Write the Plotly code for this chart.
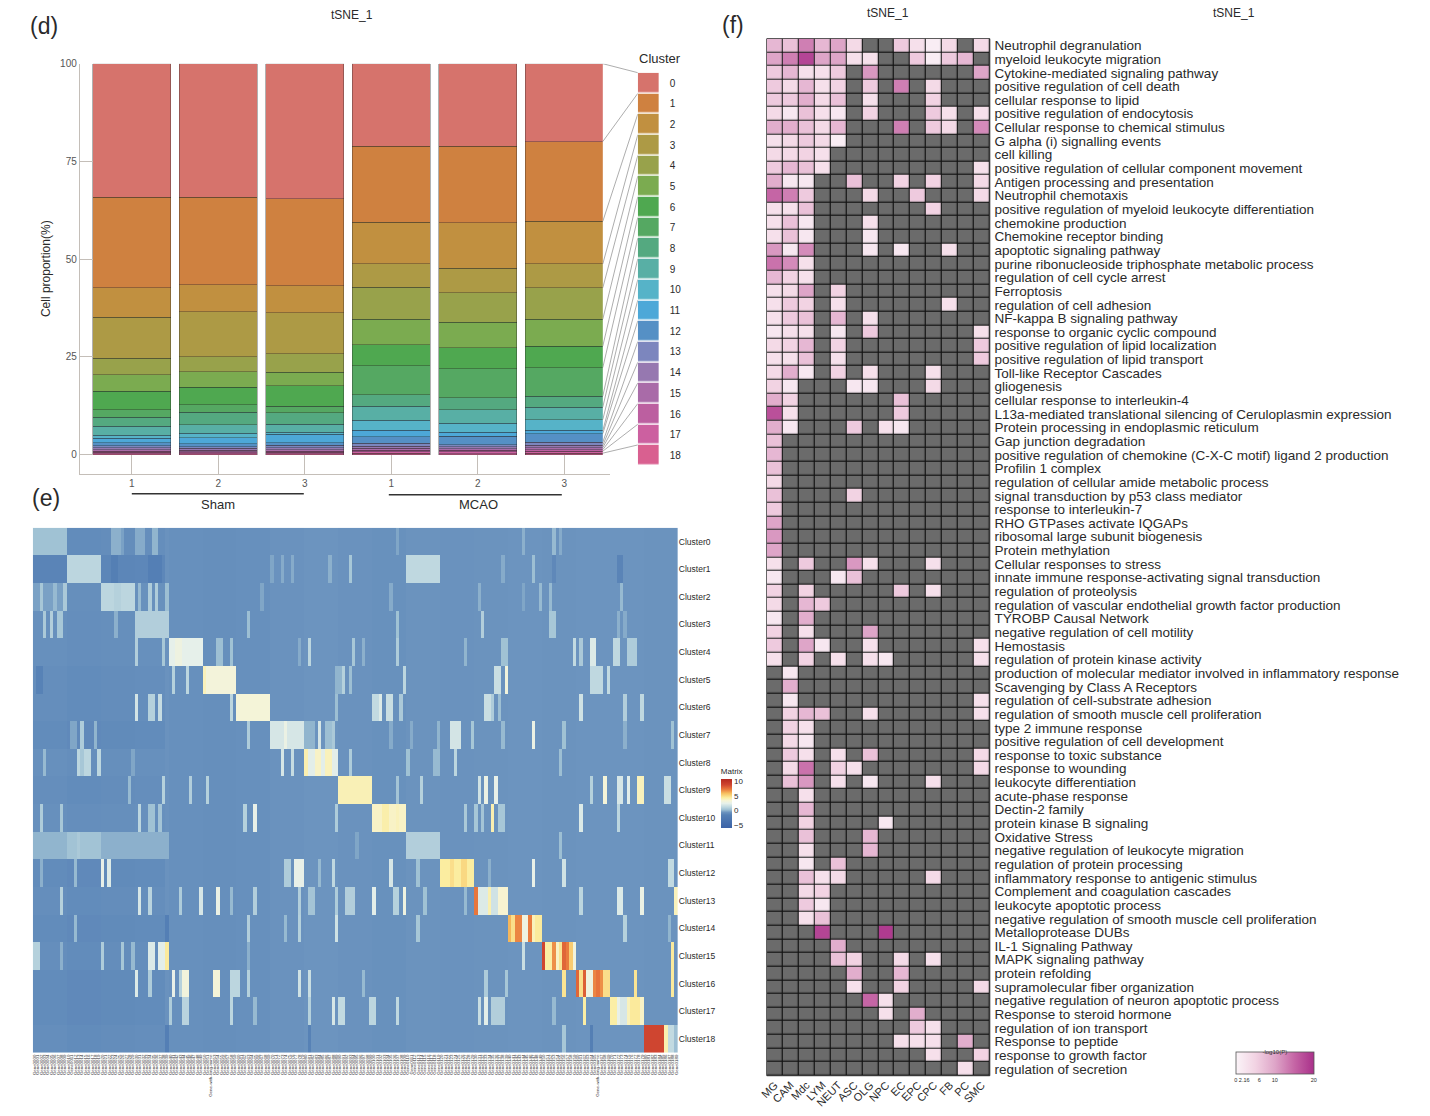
import numpy as np
import plotly.graph_objects as go

W, H = 1430, 1116
FONT = "Liberation Sans"

# ---- panel d: cell proportion per cluster, one list per sample (cluster 0 to 18)
sample_ticks = ["1", "2", "3", "1", "2", "3"]
cluster_names = [str(i) for i in range(19)]
sham_1 = [34.1, 23.2, 7.6, 10.4, 4.3, 4.2, 4.7, 1.9, 2.3, 2.3, 0.8, 1.2, 0.7, 0.5, 0.5, 0.4, 0.3, 0.3, 0.3]
sham_2 = [34.1, 22.4, 6.9, 11.5, 3.9, 3.9, 4.5, 1.9, 3.2, 2.2, 1.2, 1.5, 0.7, 0.5, 0.4, 0.4, 0.3, 0.3, 0.2]
sham_3 = [34.5, 22.3, 6.9, 10.5, 4.7, 3.4, 5.3, 1.7, 2.9, 2.1, 0.5, 2.1, 0.7, 0.6, 0.5, 0.4, 0.3, 0.3, 0.3]
mcao_1 = [21.1, 19.5, 10.5, 6.1, 8.1, 6.6, 5.4, 7.4, 2.9, 3.6, 2.6, 1.6, 1.7, 0.7, 0.5, 0.5, 0.4, 0.4, 0.4]
mcao_2 = [21.1, 19.6, 11.6, 6.3, 7.5, 6.5, 5.4, 7.4, 3.1, 3.4, 2.4, 1.0, 2.1, 0.6, 0.5, 0.4, 0.4, 0.4, 0.3]
mcao_3 = [19.9, 20.4, 10.9, 6.1, 8.0, 6.9, 5.5, 7.3, 2.8, 3.2, 2.8, 0.8, 2.2, 0.8, 0.6, 0.5, 0.4, 0.5, 0.4]
cluster_colors = ["#D6736C", "#CF8140", "#C19040", "#AD9A45", "#98A24B", "#7BAB50", "#4FA850",
                  "#55A862", "#54A980", "#58AFA5", "#56B3C8", "#4DA8D8", "#5590C5", "#7C86BE",
                  "#9678B0", "#A96BA8", "#BC5FA0", "#CC60A0", "#D96090"]

# ---- panel e: rows of the marker heatmap, as (first column, columns, value) runs
heat_labels = ["Cluster%d" % i for i in range(19)]
# the gene names under the heatmap cannot be read in the picture, these only stand in
long_genes = {52: "Gene-with-long-name", 166: "Gene-with-long-name"}
gene_labels = [long_genes.get(i, "Gene%04d" % i) for i in range(190)]
block_shade = [-0.1, -0.2, -0.15, -0.1, -0.2, -0.25, -0.2, -0.1, 0, -0.1,
               -0.15, -0.05, -0.1, -0.05, 0, -0.05, 0, 0, -0.05]
row_left = [-0.75, -1.05, -0.6, -0.65, -0.65, -0.75, -0.75, -0.85, -0.65, -0.75,
            -0.65, -0.2, -0.85, -0.75, -0.85, -0.75, -0.85, -0.85, -0.75]
row0 = [(0, 10, 0.4), (23, 3, 0.0), (26, 1, -0.3), (30, 3, -0.1), (35, 2, 0.1), (107, 1, -0.2),
        (144, 1, 0.0), (153, 1, 0.2), (155, 1, -0.1)]
row1 = [(0, 10, -1.3), (10, 10, 1.2), (23, 2, -1.7), (34, 4, -1.6), (70, 1, -0.2), (73, 1, -0.1), (76, 1, -0.1),
        (87, 1, 0.0), (93, 1, 0.6), (110, 10, 1.3), (138, 1, -0.1), (147, 1, 0.3), (153, 1, -1.1), (172, 2, -1.3)]
row2 = [(0, 10, -0.3), (2, 1, 0.6), (6, 1, 0.2), (9, 1, 0.7), (20, 10, 1.2), (24, 2, 1.0), (31, 1, 0.2),
        (34, 1, 0.8), (36, 1, 0.8), (39, 1, 0.3), (67, 1, -0.2), (105, 1, -0.1), (131, 1, 0.0), (144, 1, -0.2),
        (149, 1, 0.2), (152, 1, 0.2), (173, 1, 0.2)]
row3 = [(3, 1, 0.7), (5, 1, 0.9), (7, 2, 0.6), (24, 1, 0.0), (30, 10, 0.9), (63, 1, 0.3), (107, 1, 0.4),
        (132, 1, 0.9), (152, 2, 0.6), (172, 1, 0.0), (174, 1, -0.1)]
row4 = [(30, 1, 0.9), (38, 1, 0.6), (40, 10, 2.5), (42, 2, 3.0), (54, 2, 0.3), (58, 1, 0.4), (78, 1, -0.1),
        (81, 1, 1.2), (94, 1, 0.6), (97, 1, 0.0), (107, 1, 0.8), (127, 1, 0.1), (138, 2, 0.4), (159, 1, 1.4),
        (161, 1, 0.7), (164, 2, 2.2), (171, 2, 1.3), (175, 3, 0.8)]
row5 = [(1, 2, -1.4), (41, 1, 1.0), (45, 1, 1.2), (50, 10, 3.3), (50, 1, 4.0), (89, 2, 0.1), (91, 1, 1.0),
        (93, 1, 0.3), (109, 1, 1.2), (136, 2, 1.6), (139, 1, 3.2), (164, 4, 1.3), (169, 1, 1.4)]
row6 = [(30, 1, 1.9), (34, 2, 1.0), (37, 1, 1.5), (58, 1, 1.2), (60, 10, 3.4), (89, 1, 0.3), (100, 2, 1.4),
        (102, 1, 2.2), (104, 2, 1.6), (108, 1, 0.7), (133, 2, 1.6), (135, 1, 0.8), (137, 1, 0.3),
        (161, 1, 1.8), (174, 1, 0.9), (179, 1, 1.3)]
row7 = [(11, 2, -0.2), (14, 1, 0.8), (18, 1, 0.1), (63, 1, 0.8), (70, 10, 2.0), (74, 1, 2.8), (80, 3, 0.1),
        (84, 1, 2.0), (86, 2, 0.3), (88, 1, 0.7), (105, 1, -0.1), (111, 1, -0.1), (119, 1, 0.1), (123, 3, 1.9),
        (129, 1, 0.6), (138, 1, 0.2), (147, 1, 2.8), (156, 1, 0.4), (174, 1, 0.0), (188, 1, 0.4)]
row8 = [(3, 1, 0.2), (13, 4, 1.2), (14, 1, 0.6), (19, 1, 1.2), (29, 1, -0.2), (73, 1, 2.0), (76, 1, 1.5),
        (80, 10, 2.4), (80, 1, 4.2), (83, 2, 3.8), (86, 2, 4.0), (93, 1, 0.8), (110, 1, 0.4), (118, 2, 0.2),
        (124, 1, 1.2), (155, 1, 0.3)]
row9 = [(28, 1, 0.2), (38, 1, 1.0), (46, 1, 0.9), (51, 1, 1.0), (90, 10, 4.1), (107, 1, 0.5), (114, 1, 1.0),
        (131, 1, 1.8), (133, 1, 2.8), (136, 1, 2.6), (164, 1, 1.0), (168, 1, 3.4), (172, 2, 2.0), (175, 1, 2.4),
        (178, 2, 4.0), (186, 2, 1.6)]
row10 = [(2, 1, 0.8), (8, 1, 0.6), (31, 1, 1.2), (34, 2, 0.4), (37, 1, 0.5), (62, 1, 1.0), (65, 1, 2.6),
         (89, 1, 0.8), (100, 10, 3.8), (103, 2, 4.3), (107, 1, 4.0), (127, 1, 0.7), (130, 1, 0.6), (132, 1, 0.5),
         (135, 1, 4.2), (137, 2, 0.6), (161, 1, 2.2), (172, 1, 1.2)]
row11 = [(0, 10, 0.1), (10, 10, 0.45), (13, 1, 0.7), (20, 20, 0.0), (95, 1, -0.2), (110, 10, 0.9), (155, 1, 0.3)]
row12 = [(2, 1, 0.0), (12, 1, 0.2), (20, 1, 2.6), (22, 1, 2.2), (74, 2, 0.8), (77, 3, 2.6), (84, 1, 0.2),
         (88, 1, 1.3), (105, 1, 2.0), (113, 1, 0.4), (120, 10, 4.5), (123, 1, 5.0), (126, 2, 5.2), (134, 1, 0.0),
         (147, 1, 2.6), (156, 1, 1.8), (187, 2, 1.4)]
row13 = [(8, 1, 1.0), (31, 1, 2.0), (34, 1, 1.1), (43, 1, 0.8), (49, 1, 2.0), (54, 1, 2.8), (58, 1, 0.2),
         (65, 1, 0.9), (78, 1, 0.9), (81, 2, 0.5), (89, 1, 0.8), (92, 3, 0.9), (100, 1, 2.4), (106, 2, 1.0),
         (109, 1, 3.0), (115, 1, 0.4), (127, 1, 0.2), (130, 1, 7.5), (131, 3, 2.2), (134, 1, 4.2), (135, 2, 1.8),
         (137, 3, 3.6), (161, 1, 1.2), (172, 2, 2.2), (179, 1, 2.8), (189, 1, 4.0)]
row14 = [(12, 1, 0.2), (39, 1, -1.6), (63, 1, 0.9), (74, 1, 0.2), (78, 1, 1.0), (89, 1, 1.8), (113, 1, 0.6),
         (140, 1, 6.2), (141, 1, 5.0), (142, 2, 7.2), (144, 2, 3.0), (146, 1, 7.4), (147, 1, 4.0), (148, 2, 4.6),
         (174, 1, 1.0), (187, 1, 0.1)]
row15 = [(0, 2, 1.0), (8, 1, 0.0), (20, 1, 0.8), (26, 1, 0.6), (29, 1, 0.2), (34, 2, 2.2), (37, 2, 2.4),
         (39, 1, 4.6), (63, 1, 0.0), (144, 1, 1.6), (150, 1, 9.0), (151, 2, 4.4), (153, 1, 7.0), (154, 1, 3.8),
         (155, 1, 4.8), (156, 1, 8.0), (157, 1, 7.4), (158, 1, 5.6), (159, 1, 3.2), (188, 1, 4.6)]
row16 = [(30, 1, 2.2), (34, 1, 0.8), (41, 1, 2.6), (44, 2, 3.2), (43, 1, 1.0), (53, 2, 3.4), (58, 3, 1.2),
         (63, 1, 1.0), (78, 1, 1.8), (81, 1, 1.6), (97, 1, 0.2), (133, 1, 0.8), (139, 1, 0.6), (156, 1, 4.8),
         (160, 1, 8.0), (161, 1, 5.0), (162, 1, 8.2), (163, 2, 3.0), (165, 1, 7.2), (166, 1, 7.6), (167, 1, 7.0),
         (168, 2, 5.0), (177, 1, 4.8), (188, 1, 4.6)]
row17 = [(40, 1, 0.8), (44, 2, 1.1), (58, 1, 1.2), (65, 1, 0.2), (81, 1, 1.0), (88, 1, 2.0), (90, 2, 1.4),
         (99, 2, 1.2), (107, 1, 1.3), (131, 1, 1.6), (133, 1, 2.4), (135, 4, 0.9), (153, 1, 0.2), (162, 1, 4.4),
         (170, 2, 4.4), (172, 1, 2.6), (173, 2, 2.0), (175, 1, 4.0), (176, 3, 4.6), (179, 1, 3.8)]
row18 = [(39, 1, -1.6), (81, 1, -1.4), (156, 1, 0.6), (164, 1, -1.7), (180, 6, 9.0), (186, 1, 4.2), (187, 2, 1.4),
         (189, 1, 0.3)]
heat_rows = [row0, row1, row2, row3, row4, row5, row6, row7, row8, row9, row10, row11, row12, row13, row14,
             row15, row16, row17, row18]
heat_base = -0.55
heat_colors = [(-6, "#3B62A6"), (-1.5, "#5580B5"), (-0.55, "#6C94BF"), (0.3, "#9DBFD3"), (1.2, "#BCD6DF"),
               (2.5, "#E6F0EA"), (3.5, "#F6F4D6"), (4.5, "#FBEDA0"), (6, "#F7C060"), (7.5, "#E8763C"),
               (9, "#CF4530"), (11, "#B5281F")]

# ---- panel f: -log10(P) per term and cell type, 0 means not enriched
cell_types = ["MG", "CAM", "Mdc", "LYM", "NEUT", "ASC", "OLG", "NPC", "EC", "EPC", "CPC", "FB", "PC", "SMC"]
terms = ["Neutrophil degranulation", "myeloid leukocyte migration", "Cytokine-mediated signaling pathway",
         "positive regulation of cell death", "cellular response to lipid", "positive regulation of endocytosis",
         "Cellular response to chemical stimulus", "G alpha (i) signalling events", "cell killing",
         "positive regulation of cellular component movement", "Antigen processing and presentation",
         "Neutrophil chemotaxis", "positive regulation of myeloid leukocyte differentiation", "chemokine production",
         "Chemokine receptor binding", "apoptotic signaling pathway",
         "purine ribonucleoside triphosphate metabolic process", "regulation of cell cycle arrest", "Ferroptosis",
         "regulation of cell adhesion", "NF-kappa B signaling pathway", "response to organic cyclic compound",
         "positive regulation of lipid localization", "positive regulation of lipid transport",
         "Toll-like Receptor Cascades", "gliogenesis", "cellular response to interleukin-4",
         "L13a-mediated translational silencing of Ceruloplasmin expression",
         "Protein processing in endoplasmic reticulum", "Gap junction degradation",
         "positive regulation of chemokine (C-X-C motif) ligand 2 production", "Profilin 1 complex",
         "regulation of cellular amide metabolic process", "signal transduction by p53 class mediator",
         "response to interleukin-7", "RHO GTPases activate IQGAPs", "ribosomal large subunit biogenesis",
         "Protein methylation", "Cellular responses to stress", "innate immune response-activating signal transduction",
         "regulation of proteolysis", "regulation of vascular endothelial growth factor production",
         "TYROBP Causal Network", "negative regulation of cell motility", "Hemostasis",
         "regulation of protein kinase activity",
         "production of molecular mediator involved in inflammatory response", "Scavenging by Class A Receptors",
         "regulation of cell-substrate adhesion", "regulation of smooth muscle cell proliferation",
         "type 2 immune response", "positive regulation of cell development", "response to toxic substance",
         "response to wounding", "leukocyte differentiation", "acute-phase response", "Dectin-2 family",
         "protein kinase B signaling", "Oxidative Stress", "negative regulation of leukocyte migration",
         "regulation of protein processing", "inflammatory response to antigenic stimulus",
         "Complement and coagulation cascades", "leukocyte apoptotic process",
         "negative regulation of smooth muscle cell proliferation", "Metalloprotease DUBs", "IL-1 Signaling Pathway",
         "MAPK signaling pathway", "protein refolding", "supramolecular fiber organization",
         "negative regulation of neuron apoptotic process", "Response to steroid hormone", "regulation of ion transport",
         "Response to peptide", "response to growth factor", "regulation of secretion"]
enrichment = [
    [8, 7, 13, 8, 10, 4, 0, 0, 6, 3, 1, 4, 0, 4],
    [10, 13, 18, 10, 10, 3, 3, 0, 0, 6, 1, 6, 8, 0],
    [6, 8, 3, 3, 6, 0, 11, 0, 0, 0, 0, 0, 0, 10],
    [6, 4, 8, 3, 5, 0, 6, 0, 13, 0, 4, 0, 0, 0],
    [6, 6, 9, 4, 7, 0, 3, 0, 0, 0, 5, 0, 0, 0],
    [4, 2, 7, 3, 2, 0, 5, 0, 0, 0, 6, 3, 0, 3],
    [9, 9, 7, 4, 8, 0, 0, 0, 13, 0, 6, 4, 0, 12],
    [3, 4, 6, 4, 1, 0, 0, 0, 0, 0, 0, 0, 0, 0],
    [4, 4, 5, 3, 0, 0, 0, 0, 0, 0, 0, 0, 0, 0],
    [6, 8, 7, 3, 0, 0, 0, 0, 0, 0, 0, 0, 0, 3],
    [9, 2, 2, 0, 0, 7, 0, 0, 5, 0, 5, 0, 0, 4],
    [15, 13, 6, 0, 0, 0, 4, 0, 0, 6, 0, 0, 0, 4],
    [3, 3, 7, 0, 0, 0, 0, 0, 0, 0, 5, 0, 0, 0],
    [3, 7, 2, 0, 0, 0, 3, 0, 0, 0, 0, 0, 0, 0],
    [3, 7, 2, 0, 0, 0, 2, 0, 0, 0, 0, 0, 0, 0],
    [11, 2, 12, 0, 0, 0, 2, 0, 2, 0, 0, 3, 0, 0],
    [14, 12, 3, 0, 0, 0, 0, 0, 0, 0, 0, 0, 0, 0],
    [8, 5, 3, 0, 0, 0, 0, 0, 0, 0, 0, 0, 0, 0],
    [3, 4, 10, 0, 5, 0, 0, 0, 0, 0, 0, 0, 0, 0],
    [3, 6, 5, 0, 3, 0, 0, 0, 0, 0, 0, 3, 0, 0],
    [3, 6, 7, 0, 8, 0, 3, 0, 0, 0, 0, 0, 0, 0],
    [2, 3, 3, 0, 2, 0, 6, 0, 0, 0, 0, 0, 0, 3],
    [4, 5, 8, 0, 5, 0, 0, 0, 0, 0, 0, 0, 0, 6],
    [3, 3, 7, 0, 3, 0, 0, 0, 0, 0, 0, 0, 0, 6],
    [4, 9, 2, 0, 5, 0, 3, 0, 0, 0, 3, 0, 0, 0],
    [5, 2, 0, 0, 0, 2, 2, 0, 0, 0, 4, 0, 0, 0],
    [9, 5, 0, 0, 0, 0, 0, 0, 7, 0, 0, 0, 0, 0],
    [17, 3, 0, 0, 0, 0, 0, 0, 6, 0, 0, 0, 0, 0],
    [9, 2, 0, 0, 0, 6, 0, 3, 2, 0, 0, 0, 0, 0],
    [7, 0, 0, 0, 0, 0, 0, 0, 0, 0, 0, 0, 0, 0],
    [8, 0, 0, 0, 0, 0, 0, 0, 0, 0, 0, 0, 0, 0],
    [7, 0, 0, 0, 0, 0, 0, 0, 0, 0, 0, 0, 0, 0],
    [4, 0, 0, 0, 0, 0, 0, 0, 0, 0, 0, 0, 0, 0],
    [7, 0, 0, 0, 0, 5, 0, 0, 0, 0, 0, 0, 0, 0],
    [6, 0, 0, 0, 0, 0, 0, 0, 0, 0, 0, 0, 0, 0],
    [10, 0, 0, 0, 0, 0, 0, 0, 0, 0, 0, 0, 0, 0],
    [11, 0, 0, 0, 0, 0, 0, 0, 0, 0, 0, 0, 0, 0],
    [10, 0, 0, 0, 0, 0, 0, 0, 0, 0, 0, 0, 0, 0],
    [3, 0, 6, 0, 0, 11, 3, 0, 0, 0, 3, 0, 0, 0],
    [2, 0, 0, 0, 2, 7, 0, 0, 0, 0, 0, 0, 0, 0],
    [5, 0, 5, 0, 0, 0, 0, 0, 6, 0, 3, 0, 0, 0],
    [4, 0, 8, 6, 0, 0, 0, 0, 0, 0, 0, 0, 0, 0],
    [2, 0, 9, 0, 0, 0, 0, 0, 0, 0, 0, 0, 0, 0],
    [5, 0, 3, 0, 0, 0, 10, 0, 0, 0, 0, 0, 0, 0],
    [6, 0, 10, 2, 0, 0, 3, 0, 0, 0, 0, 0, 0, 3],
    [3, 0, 5, 0, 3, 0, 3, 2, 0, 0, 0, 0, 0, 3],
    [0, 2, 0, 0, 0, 0, 0, 0, 0, 0, 0, 0, 0, 0],
    [0, 9, 0, 0, 0, 0, 0, 0, 0, 0, 0, 0, 0, 0],
    [0, 2, 0, 0, 0, 0, 0, 0, 0, 0, 0, 0, 0, 3],
    [0, 5, 8, 7, 0, 0, 3, 0, 0, 0, 0, 0, 0, 3],
    [0, 5, 3, 0, 0, 0, 0, 0, 0, 0, 0, 0, 0, 0],
    [0, 4, 2, 0, 0, 0, 0, 0, 0, 0, 0, 0, 0, 0],
    [0, 6, 3, 0, 3, 0, 7, 0, 0, 0, 0, 0, 0, 4],
    [0, 4, 14, 0, 5, 3, 0, 0, 0, 0, 0, 0, 0, 4],
    [0, 7, 11, 0, 3, 0, 2, 0, 0, 0, 3, 0, 0, 0],
    [0, 0, 3, 0, 0, 0, 0, 0, 0, 0, 0, 0, 0, 0],
    [0, 0, 8, 0, 0, 0, 0, 0, 0, 0, 0, 0, 0, 0],
    [0, 0, 5, 0, 0, 0, 0, 2, 0, 0, 0, 0, 0, 0],
    [0, 0, 7, 0, 0, 0, 8, 0, 0, 0, 0, 0, 0, 0],
    [0, 0, 3, 0, 0, 0, 8, 0, 0, 0, 0, 0, 0, 0],
    [0, 0, 2, 0, 7, 0, 0, 0, 0, 0, 0, 0, 0, 0],
    [0, 0, 7, 3, 4, 0, 0, 0, 0, 0, 4, 0, 0, 0],
    [0, 0, 4, 5, 0, 0, 0, 0, 0, 0, 0, 0, 0, 0],
    [0, 0, 6, 2, 0, 0, 0, 0, 0, 0, 0, 0, 0, 0],
    [0, 0, 3, 7, 0, 0, 0, 0, 0, 0, 0, 0, 0, 0],
    [0, 0, 0, 18, 0, 0, 0, 19, 0, 0, 0, 0, 0, 0],
    [0, 0, 0, 0, 9, 0, 0, 0, 0, 0, 0, 0, 0, 0],
    [0, 0, 0, 0, 7, 5, 0, 0, 4, 0, 3, 0, 0, 0],
    [0, 0, 0, 0, 0, 9, 0, 0, 8, 0, 0, 0, 0, 0],
    [0, 0, 0, 0, 0, 3, 0, 0, 5, 0, 0, 0, 0, 4],
    [0, 0, 0, 0, 0, 0, 15, 3, 0, 0, 0, 0, 0, 0],
    [0, 0, 0, 0, 0, 0, 0, 3, 0, 9, 0, 0, 0, 0],
    [0, 0, 0, 0, 0, 0, 0, 0, 0, 6, 3, 0, 0, 0],
    [0, 0, 0, 0, 0, 0, 0, 0, 3, 3, 3, 0, 9, 0],
    [0, 0, 0, 0, 0, 0, 0, 0, 0, 0, 3, 0, 0, 5],
    [0, 0, 0, 0, 0, 0, 0, 0, 0, 0, 0, 0, 3, 0],
]
enrich_ticks = [0, 2.16, 6, 10, 20]
enrich_scale = [[0, "#FBF4F8"], [0.25, "#F2D3E3"], [0.5, "#DEA5C8"], [0.75, "#C565A5"], [1, "#A9308A"]]


# page pixel to paper fraction, corrected for the shift seen in the rendered page
def px(x):
    return (x - 8.2) / 0.9937 / W


def py(y):
    return 1 - (y - 5.3) / 0.9937 / H


def dom_x(a, b):
    return [px(a), px(b)]


def dom_y(top, bottom):
    return [py(bottom), py(top)]


fig = go.Figure()

# ---- panel d
samples = [sham_1, sham_2, sham_3, mcao_1, mcao_2, mcao_3]
positions = list(range(6))
for c in range(18, -1, -1):
    fig.add_trace(go.Bar(x=positions, y=[s[c] for s in samples], name=cluster_names[c], width=0.9,
                         marker=dict(color=cluster_colors[c], line=dict(color="rgba(40,40,40,0.45)", width=0.8)),
                         showlegend=False, xaxis="x", yaxis="y"))

# lines from the last bar to the legend keys
y_unit = 3.91
legend_top = 72
legend_step = 20.68
last_tops = np.cumsum(mcao_3[::-1])[::-1]
for c in range(19):
    key_value = (454 - (legend_top + legend_step * c)) / y_unit
    fig.add_trace(go.Scatter(x=[0, 1], y=[last_tops[c], key_value], mode="lines",
                             line=dict(color="#8A8A8A", width=0.7), showlegend=False, hoverinfo="skip",
                             xaxis="x2", yaxis="y"))

# legend keys
key_scale = [[i / 18, cluster_colors[i]] for i in range(19)]
fig.add_trace(go.Heatmap(z=[[i] for i in range(19)], x=["key"], y=cluster_names, colorscale=key_scale,
                         zmin=0, zmax=18, showscale=False, ygap=1.5, xaxis="x3", yaxis="y3"))

# ---- panel e
matrix = np.full((19, 190), heat_base)
for r, runs in enumerate(heat_rows):
    matrix[r, :39] = row_left[r]
    for b, shade in enumerate(block_shade):
        matrix[r, b * 10:(b + 1) * 10] += shade
    for first, n, val in runs:
        matrix[r, first:first + n] = val
heat_scale = [[(v + 6) / 17, col] for v, col in heat_colors]
fig.add_trace(go.Heatmap(z=matrix, x=list(range(190)), y=heat_labels, colorscale=heat_scale, zmin=-6, zmax=11,
                         xaxis="x4", yaxis="y4",
                         colorbar=dict(title=dict(text="Matrix", side="top", font=dict(size=8, family=FONT)),
                                       x=px(721), xanchor="left", xpad=0, y=py(764), yanchor="top", ypad=0,
                                       lenmode="pixels", len=63, thickness=11, outlinewidth=0,
                                       tickvals=[-5, 0, 5, 10], ticks="", tickfont=dict(size=8, family=FONT))))

# ---- panel f
enrich = np.array(enrichment, dtype=float)
enrich[enrich == 0] = np.nan
fig.add_trace(go.Heatmap(z=np.zeros(enrich.shape), x=cell_types, y=terms, colorscale=[[0, "#6B6B6B"], [1, "#6B6B6B"]],
                         showscale=False, xgap=1.2, ygap=1.2, xaxis="x5", yaxis="y5", hoverinfo="skip"))
fig.add_trace(go.Heatmap(z=enrich, x=cell_types, y=terms, colorscale=enrich_scale, zmin=0, zmax=20, xgap=1.2, ygap=1.2,
                         xaxis="x5", yaxis="y5",
                         colorbar=dict(orientation="h", title=dict(text="-log10(P)", side="top", font=dict(size=6, family=FONT)),
                                       x=px(1236), xanchor="left", xpad=0, y=py(1045), yanchor="top", ypad=0,
                                       lenmode="pixels", len=78, thickness=22, outlinecolor="#555555", outlinewidth=0.8,
                                       tickvals=enrich_ticks, ticktext=[str(t) for t in enrich_ticks], ticks="",
                                       tickangle=0, tickfont=dict(size=5.5, family=FONT))))

hidden = dict(visible=False)
label_color = "#2A2A2A"
axis_color = "#C4BEB8"
fig.update_layout(
    width=W, height=H, margin=dict(l=0, r=0, t=0, b=0), barmode="stack", paper_bgcolor="white",
    plot_bgcolor="white", font=dict(family=FONT, color=label_color),
    xaxis=dict(domain=dom_x(80, 610), range=[-0.6, 5.526], tickvals=positions, ticktext=sample_ticks,
               ticks="inside", ticklen=19, tickcolor=axis_color, showgrid=False, zeroline=False,
               showline=True, linecolor=axis_color, tickfont=dict(size=10, color="#555555"), anchor="y"),
    yaxis=dict(domain=dom_y(63, 473), range=[-4.86, 100], tickvals=[0, 25, 50, 75, 100],
               ticks="inside", ticklen=13, tickcolor=axis_color, showgrid=False, zeroline=False,
               showline=True, linecolor=axis_color, tickfont=dict(size=10, color="#555555"), anchor="x",
               title=dict(text="Cell proportion(%)", font=dict(size=12, color=label_color), standoff=6)),
    xaxis2=dict(domain=dom_x(603, 638), range=[0, 1], anchor="y", **hidden),
    xaxis3=dict(domain=dom_x(638, 659), anchor="y3", **hidden),
    yaxis3=dict(domain=dom_y(72, 465), anchor="x3", side="right", autorange="reversed", ticks="outside", ticklen=8,
                tickcolor="rgba(0,0,0,0)", showline=False, showgrid=False, zeroline=False,
                tickfont=dict(size=10, color=label_color), tickmode="array", tickvals=cluster_names, ticktext=cluster_names),
    xaxis4=dict(domain=dom_x(33, 678), anchor="y4", range=[-0.5, 189.5], tickmode="array", tickvals=list(range(190)),
                ticktext=gene_labels, tickangle=-90, ticks="", tickfont=dict(size=4.4, color="#333333"),
                showgrid=False, zeroline=False, showline=False),
    yaxis4=dict(domain=dom_y(527, 1052), anchor="x4", side="right", autorange="reversed", ticks="", showgrid=False,
                zeroline=False, showline=False, tickmode="array", tickvals=heat_labels, ticktext=heat_labels,
                tickfont=dict(size=8.5, color=label_color)),
    xaxis5=dict(domain=dom_x(767, 990), anchor="y5", tickangle=-45, ticks="", showgrid=False, zeroline=False,
                showline=False, tickfont=dict(size=11, color=label_color), tickmode="array",
                tickvals=cell_types, ticktext=cell_types),
    yaxis5=dict(domain=dom_y(38, 1075), anchor="x5", side="right", autorange="reversed", ticks="outside", ticklen=1,
                tickcolor="rgba(0,0,0,0)", showgrid=False, zeroline=False, showline=False, tickmode="array",
                tickvals=terms, ticktext=terms, tickfont=dict(size=13.5, color=label_color)),
)


def note(text, x, y, size, color=label_color):
    fig.add_annotation(text=text, x=px(x), y=py(y), xref="paper", yref="paper", showarrow=False,
                       font=dict(size=size, color=color), xanchor="center", yanchor="middle")


note("(d)", 44, 25, 23)
note("(e)", 46, 497, 23)
note("(f)", 733, 24, 23)
note("tSNE_1", 352, 14, 12)
note("tSNE_1", 888, 12, 12)
note("tSNE_1", 1234, 12, 12)
note("Cluster", 660, 58, 13)
note("Sham", 218, 504, 13)
note("MCAO", 479, 504, 13)

for x0, x1, y0 in [(132, 304, 493), (389, 562, 494)]:
    fig.add_shape(type="line", xref="paper", yref="paper", x0=px(x0), x1=px(x1), y0=py(y0), y1=py(y0),
                  line=dict(color="#333333", width=1.5))

# black behind the enrichment cells, shows through the gaps as the grid
fig.add_shape(type="rect", xref="paper", yref="paper", x0=px(767), x1=px(990), y0=py(1075), y1=py(38),
              fillcolor="#111111", line=dict(color="#333333", width=1), layer="below")

fig.write_html("out.html", config={"displayModeBar": False}, post_script="document.body.style.margin='0';")
